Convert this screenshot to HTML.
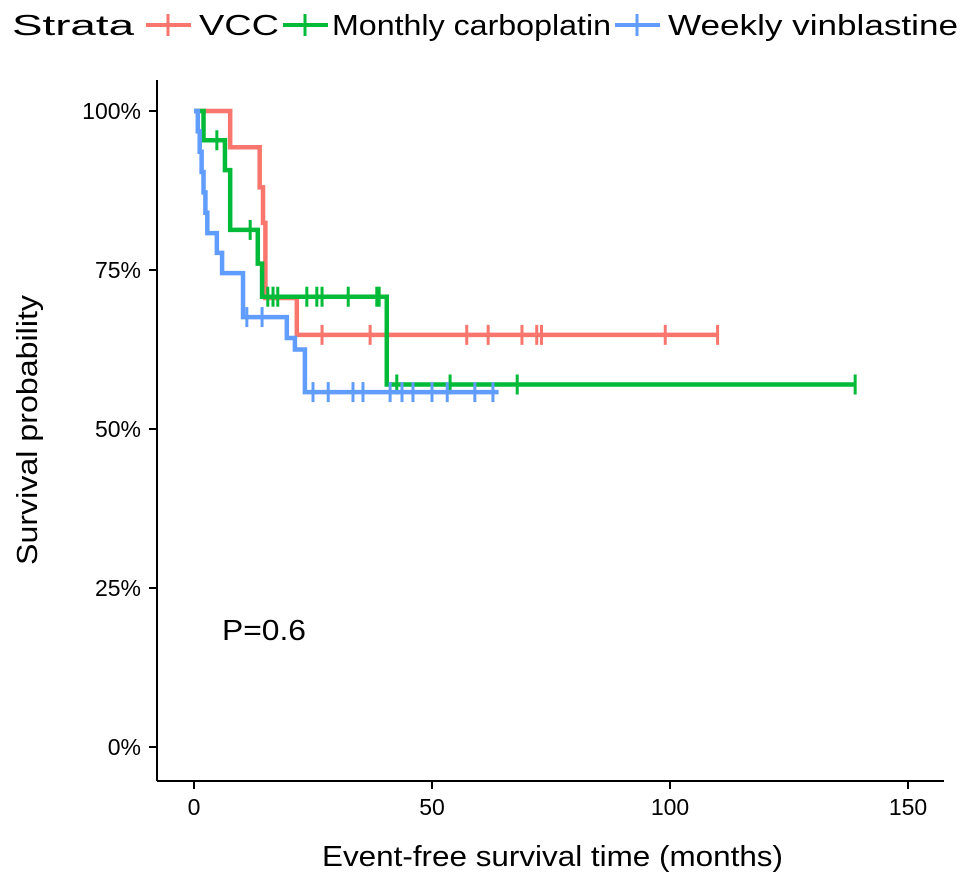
<!DOCTYPE html>
<html><head><meta charset="utf-8"><style>
body{margin:0;background:#fff;}
svg text{font-family:"Liberation Sans",sans-serif;fill:#000;}
</style></head><body>
<svg id="chart" width="969" height="883" xmlns="http://www.w3.org/2000/svg">
<g id="legend">
<text x="12" y="35" font-size="29" textLength="122" lengthAdjust="spacingAndGlyphs">Strata</text>
<g><line x1="146" y1="25" x2="191" y2="25" stroke="#F8766D" stroke-width="4"/><line x1="168" y1="14" x2="168" y2="36" stroke="#F8766D" stroke-width="3"/><text x="199" y="35" font-size="29" textLength="80" lengthAdjust="spacingAndGlyphs">VCC</text></g>
<g><line x1="283" y1="25" x2="328" y2="25" stroke="#00BA38" stroke-width="4"/><line x1="305" y1="14" x2="305" y2="36" stroke="#00BA38" stroke-width="3"/><text x="332" y="35" font-size="29" textLength="279" lengthAdjust="spacingAndGlyphs">Monthly carboplatin</text></g>
<g><line x1="615" y1="25" x2="660" y2="25" stroke="#619CFF" stroke-width="4"/><line x1="637" y1="14" x2="637" y2="36" stroke="#619CFF" stroke-width="3"/><text x="668" y="35" font-size="29" textLength="290" lengthAdjust="spacingAndGlyphs">Weekly vinblastine</text></g>
</g>
<g id="axes"></g>
<g id="series"></g>
<text x="222" y="640" font-size="29" textLength="84" lengthAdjust="spacingAndGlyphs">P=0.6</text>
<text x="322" y="866" font-size="29" textLength="461" lengthAdjust="spacingAndGlyphs">Event-free survival time (months)</text>
<text transform="translate(37,565) rotate(-90)" font-size="29" textLength="270" lengthAdjust="spacingAndGlyphs">Survival probability</text>
</svg>
<script>
const xTicks=[0,50,100,150];
const yTicks=[0,0.25,0.5,0.75,1];
const yTickLabels=["0%","25%","50%","75%","100%"];
const vccTimes=[0,7.6,13.8,14.5,15,21.6,110];
const vccSurv=[1,0.943,0.88,0.824,0.706,0.648,0.648];
const vccCensor=[26.9,37,57.3,61.8,68.9,72,73,99,110];
const carbTimes=[0,2,6.5,7.6,13.4,14.3,40.5,139];
const carbSurv=[1,0.954,0.907,0.813,0.76,0.708,0.57,0.57];
const carbCensor=[4.8,11.8,15.5,16.6,17.6,23.7,25.8,26.9,32.4,38.4,38.9,42.6,53.8,67.9,138.9];
const vinTimes=[0,0.8,1.2,1.6,2.0,2.4,2.8,4.8,5.9,10.3,19.5,21.2,23.3,64];
const vinSurv=[1,0.968,0.936,0.904,0.872,0.84,0.808,0.777,0.745,0.676,0.643,0.625,0.558,0.558];
const vinCensor=[11.1,14.3,25,28.2,33.4,35.5,41.2,43.7,46,50,53.2,59,62.8];
const NS="http://www.w3.org/2000/svg";
const X=t=>194+t*4.76;
const Y=p=>747-p*636;
function mk(tag,attrs,parent){const e=document.createElementNS(NS,tag);for(const k in attrs)e.setAttribute(k,attrs[k]);parent.appendChild(e);return e;}
const ax=document.getElementById('axes');
const xl=mk('line',{x1:157,y1:781,x2:944,y2:781,stroke:'#000','stroke-width':2},ax);


const yl=mk('line',{x1:157,y1:80,x2:157,y2:781,stroke:'#000','stroke-width':2},ax);


xTicks.forEach(v=>{
 mk('line',{x1:X(v),y1:781,x2:X(v),y2:789,stroke:'#000','stroke-width':2},ax);
 const t=mk('text',{x:X(v),y:815,'font-size':23,'text-anchor':'middle',fill:'#4d4d4d'},ax);t.textContent=v;
 
 
});
yTicks.forEach((v,i)=>{
 mk('line',{x1:149,y1:Y(v),x2:157,y2:Y(v),stroke:'#000','stroke-width':2},ax);
 const t=mk('text',{x:141,y:Y(v)+8,'font-size':23,'text-anchor':'end',fill:'#4d4d4d'},ax);t.textContent=yTickLabels[i];
 
 
});
const sg=document.getElementById('series');
function drawSeries(times,surv,cens,color,name){
 const g=mk('g',{},sg);
 
 
 let d='M'+X(times[0])+','+Y(surv[0]);
 for(let i=1;i<times.length;i++){d+=' H'+X(times[i])+' V'+Y(surv[i]);}
 mk('path',{d:d,fill:'none',stroke:color,'stroke-width':4.5},g);
 cens.forEach(c=>{
  let s=surv[0];
  for(let i=0;i<times.length;i++){if(times[i]<=c)s=surv[i];}
  const m=mk('line',{x1:X(c),y1:Y(s)-10,x2:X(c),y2:Y(s)+10,stroke:color,'stroke-width':3},g);
  
  
 });
}
drawSeries(vccTimes,vccSurv,vccCensor,'#F8766D','series-vcc');
drawSeries(carbTimes,carbSurv,carbCensor,'#00BA38','series-carboplatin');
drawSeries(vinTimes,vinSurv,vinCensor,'#619CFF','series-vinblastine');
</script>
</body></html>
